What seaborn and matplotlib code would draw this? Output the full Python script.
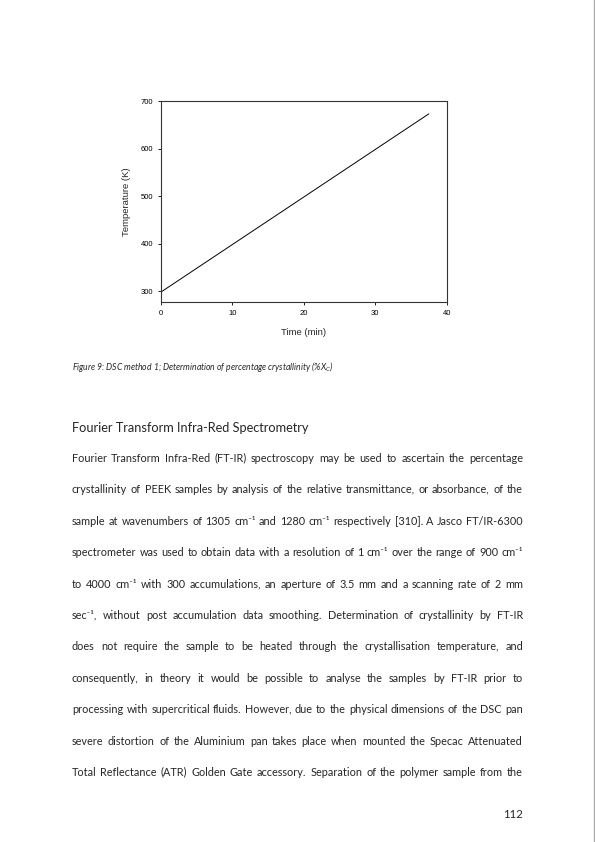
import numpy as np
import matplotlib
matplotlib.use("Agg")
import matplotlib.pyplot as plt
import seaborn as sns
from matplotlib.backends.backend_agg import get_hinting_flag

# chart data: DSC heating ramp
time_min = [0, 37.5]
temp_k = [298, 673]
x_ticks = [0, 10, 20, 30, 40]
y_ticks = [300, 400, 500, 600, 700]

caption = r"Figure 9: DSC method 1; Determination of percentage crystallinity (%X$_C$)"
heading = "Fourier Transform Infra-Red Spectrometry"
body_lines = [
    "Fourier Transform Infra-Red (FT-IR) spectroscopy may be used to ascertain the percentage",
    "crystallinity of PEEK samples by analysis of the relative transmittance, or absorbance, of the",
    "sample at wavenumbers of 1305 cm\u207b\u00b9 and 1280 cm\u207b\u00b9 respectively [310]. A Jasco FT/IR-6300",
    "spectrometer was used to obtain data with a resolution of 1 cm\u207b\u00b9 over the range of 900 cm\u207b\u00b9",
    "to 4000 cm\u207b\u00b9 with 300 accumulations, an aperture of 3.5 mm and a scanning rate of 2 mm",
    "sec\u207b\u00b9, without post accumulation data smoothing. Determination of crystallinity by FT-IR",
    "does not require the sample to be heated through the crystallisation temperature, and",
    "consequently, in theory it would be possible to analyse the samples by FT-IR prior to",
    "processing with supercritical fluids. However, due to the physical dimensions of the DSC pan",
    "severe distortion of the Aluminium pan takes place when mounted the Specac Attenuated",
    "Total Reflectance (ATR) Golden Gate accessory. Separation of the polymer sample from the",
]
page_number = "112"

sns.set_style("ticks")
plt.rcParams["font.family"] = ["Lato", "DejaVu Sans"]
plt.rcParams["mathtext.fontset"] = "custom"
plt.rcParams["mathtext.rm"] = "Lato"
plt.rcParams["mathtext.it"] = "Lato:italic"
plt.rcParams["mathtext.bf"] = "Lato:bold"

W, H = 595, 842
fig = plt.figure(figsize=(W / 100, H / 100), dpi=100)

# --- the chart ---
ax = fig.add_axes([161 / W, 1 - 302 / H, (446.7 - 161) / W, (302 - 101) / H])
sns.lineplot(x=time_min, y=temp_k, ax=ax, color="black", linewidth=0.7)
ax.set_xlim(0, 40)
ax.set_ylim(277, 700)
ax.set_xticks(x_ticks)
ax.set_yticks(y_ticks)
for s in ax.spines.values():
    s.set_linewidth(0.8)
    s.set_color("#333333")
ax.tick_params(direction="out", length=2.5, width=0.6, pad=3,
               labelsize=5.5, colors="black")
for lab in ax.get_xticklabels() + ax.get_yticklabels():
    lab.set_family("Liberation Sans")
ax.set_xlabel("Time (min)", family="Liberation Sans", fontsize=6.8, labelpad=8)
ax.set_ylabel("Temperature (K)", family="Liberation Sans", fontsize=6.8, labelpad=7)

# --- page text ---
def y_of(px):
    return 1 - px / H

fig.text(72 / W, y_of(370), caption, fontsize=6.2, style="italic",
         va="baseline", ha="left")
fig.text(72 / W, y_of(432), heading, fontsize=9.2, va="baseline", ha="left")

fig.canvas.draw()
renderer = fig.canvas.get_renderer()


def text_width(s, size):
    t = fig.text(0, 0, s, fontsize=size)
    w = t.get_window_extent(renderer).width
    t.remove()
    return w


def raster_shift(t, b):
    # agg snaps each word's bitmap to whole pixels from its own bbox;
    # work out that offset so all words of a line share one baseline
    font = renderer._prepare_font(t.get_fontproperties())
    font.set_text(t.get_text(), 0, flags=get_hinting_flag())
    _, h26 = font.get_width_height()
    d26 = font.get_descent()
    return round(b + d26 / 64) - b - h26 // 64 + (h26 - d26) // 64


left, right = 72, 523
target = right - left

body_size = 8.6
while max(text_width(l, body_size) for l in body_lines) > target - 2:
    body_size -= 0.1

for i, line in enumerate(body_lines):
    base = round(462 + 31.4 * i)
    words = line.split(" ")
    arts = [fig.text(0, y_of(base), w, fontsize=body_size, va="baseline", ha="left")
            for w in words]
    widths = [a.get_window_extent(renderer).width for a in arts]
    gap = (target - sum(widths)) / (len(words) - 1)
    x = left
    for a, w in zip(arts, widths):
        a.set_x(x / W)
        a.set_y(y_of(base - raster_shift(a, base)))
        x += w + gap

fig.text(523 / W, y_of(818), page_number, fontsize=8.2, va="baseline", ha="right")

# page edge line
fig.add_artist(plt.Line2D([594 / W, 594 / W], [0, 1], transform=fig.transFigure,
                          color="#aaaaaa", linewidth=1.0))

fig.savefig("out.png", dpi=100)
